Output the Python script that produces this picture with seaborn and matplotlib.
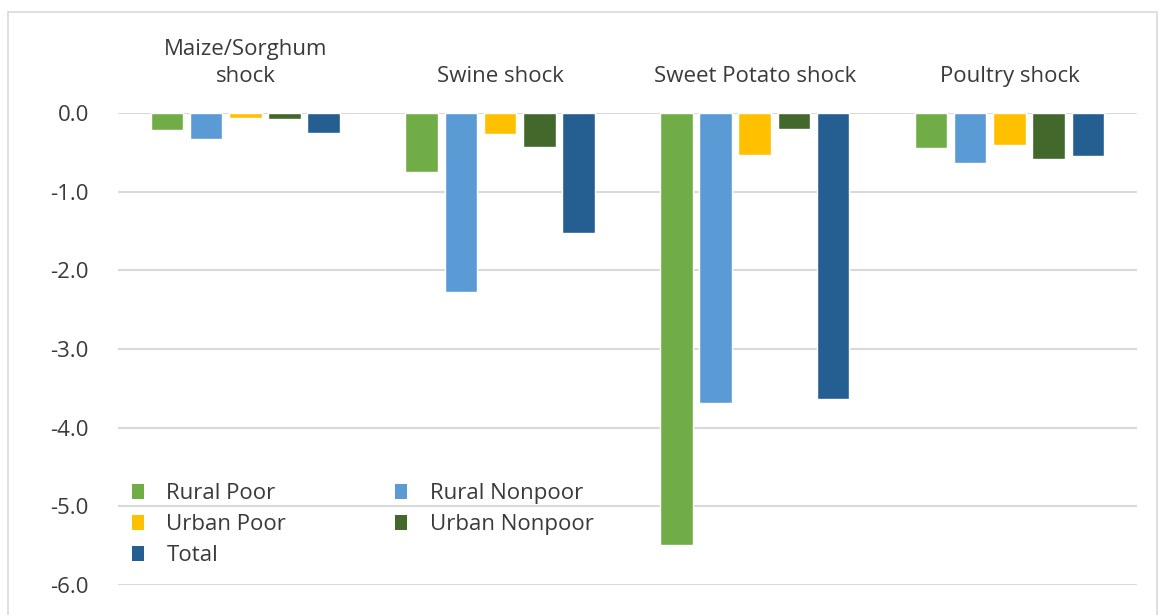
import matplotlib
matplotlib.use("Agg")
import matplotlib.pyplot as plt
import seaborn as sns
import pandas as pd
from matplotlib.patches import Patch, Rectangle

categories = ["Maize/Sorghum\nshock", "Swine shock", "Sweet Potato shock", "Poultry shock"]
groups = ["Rural Poor", "Rural Nonpoor", "Urban Poor", "Urban Nonpoor", "Total"]
rural_poor = [-0.22, -0.75, -5.49, -0.44]
rural_nonpoor = [-0.33, -2.28, -3.69, -0.63]
urban_poor = [-0.07, -0.27, -0.53, -0.41]
urban_nonpoor = [-0.08, -0.43, -0.20, -0.58]
total = [-0.26, -1.53, -3.63, -0.55]
colors = ["#70AD47", "#5B9BD5", "#FFC000", "#43682B", "#255E91"]
yticks = [0.0, -1.0, -2.0, -3.0, -4.0, -5.0, -6.0]

series = [rural_poor, rural_nonpoor, urban_poor, urban_nonpoor, total]
rows = []
for g, vals in zip(groups, series):
    for c, v in zip(categories, vals):
        rows.append({"category": c, "group": g, "value": v})
df = pd.DataFrame(rows)

sns.set_theme(style="white")
plt.rcParams["font.family"] = ["Open Sans", "DejaVu Sans"]
text_color = "#3A3A3A"
fs = 16

fig = plt.figure(figsize=(11.6, 6.15), dpi=100)
ax = fig.add_axes([0.1017, 0.0488, 0.8783, 0.7675])

sns.barplot(data=df, x="category", y="value", hue="group", order=categories,
            hue_order=groups, palette=colors, width=0.77, gap=0.17,
            saturation=1, ax=ax, legend=False, errorbar=None)

ax.set_ylim(-6, 0)
ax.set_yticks(yticks)
ax.set_yticklabels([f"{t:.1f}" for t in yticks], fontsize=fs, color=text_color)
ax.yaxis.grid(True, color="#D9D9D9", linewidth=1.5)
ax.set_axisbelow(True)
ax.xaxis.tick_top()
ax.tick_params(axis="x", length=0, pad=19, labelsize=fs, labelcolor=text_color)
ax.tick_params(axis="y", length=0, pad=21)
for lbl in ax.get_xticklabels():
    lbl.set_linespacing(1.35)
ax.set_xlabel("")
ax.set_ylabel("")
for s in ax.spines.values():
    s.set_visible(False)

order_idx = [0, 2, 4, 1, 3]
handles = [Patch(facecolor=colors[i], edgecolor="none") for i in order_idx]
labels = [groups[i] for i in order_idx]
leg = ax.legend(handles, labels, ncol=2, loc="lower left",
                bbox_to_anchor=(0.0137, 0.04), frameon=False, fontsize=fs,
                handlelength=0.55, handleheight=0.65, handletextpad=1.0,
                columnspacing=4.9, labelspacing=0.45, borderaxespad=0.0,
                borderpad=0.0)
for t in leg.get_texts():
    t.set_color(text_color)

fig.patches.append(Rectangle((0.007, -0.02), 0.99, 1.0, transform=fig.transFigure,
                             fill=False, edgecolor="#D9D9D9", linewidth=1.2))

fig.savefig("out.png", dpi=100)
